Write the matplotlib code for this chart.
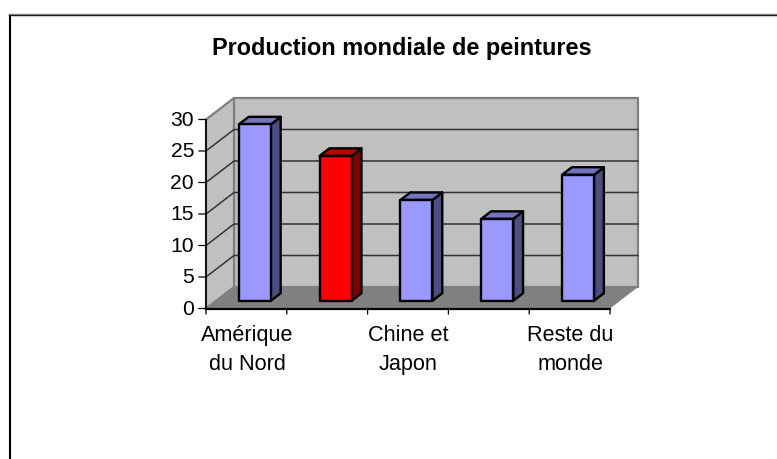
import matplotlib
matplotlib.use("Agg")
import matplotlib.pyplot as plt
from matplotlib.patches import Polygon
from matplotlib.lines import Line2D

categories = ["Amérique\ndu Nord", "", "Chine et\nJapon", "", "Reste du\nmonde"]
values = [28, 23, 16, 13, 20]
bar_colors = ["#9999FF", "#FF0000", "#9999FF", "#9999FF", "#9999FF"]
top_colors = ["#7373BF", "#BF0000", "#7373BF", "#7373BF", "#7373BF"]
side_colors = ["#4D4D80", "#800000", "#4D4D80", "#4D4D80", "#4D4D80"]
y_ticks = [0, 5, 10, 15, 20, 25, 30]
title = "Production mondiale de peintures"

W, H = 777, 459
plt.rcParams["font.family"] = "Liberation Sans"
fig = plt.figure(figsize=(W / 100, H / 100), dpi=100, facecolor="white")

# Front plane of the oblique box
L, R, B, T = 206, 610, 308.5, 119.5
ax = fig.add_axes([L / W, 1 - B / H, (R - L) / W, (B - T) / H])
ax.set_xlim(0, 5)
ax.set_ylim(0, 30)
ax.axis("off")

# Oblique depth, in data units for full box depth
DX = 28 / ((R - L) / 5)
DY = 21.5 / ((B - T) / 30)
Z0, Z1 = 0.36, 0.71   # bar front / back depth fraction
BAR_W = 32 / ((R - L) / 5)
SHIFT = -0.02

def P(x, y, z=0.0):
    return (x + DX * z, y + DY * z)

def poly(pts, fc, ec="none", lw=0, z=1, join="miter"):
    ax.add_patch(Polygon(pts, closed=True, facecolor=fc, edgecolor=ec, linewidth=lw,
                         clip_on=False, zorder=z, joinstyle=join))

# Walls and floor
poly([P(0, 0, 1), P(5, 0, 1), P(5, 30, 1), P(0, 30, 1)], "#C0C0C0", "#808080", 1.6, 1)
poly([P(0, 0, 0), P(0, 0, 1), P(0, 30, 1), P(0, 30, 0)], "#C0C0C0", "#808080", 1.6, 1)
poly([P(0, 0, 0), P(5, 0, 0), P(5, 0, 1), P(0, 0, 1)], "#808080", "none", 0, 2)

# Gridlines
for v in y_ticks[1:-1]:
    ax.add_line(Line2D(*zip(P(0, v, 0), P(0, v, 1), P(5, v, 1)), color="#333333", lw=1.1,
                       clip_on=False, zorder=3))

# Bars
for i, (v, fc, tc, sc) in enumerate(zip(values, bar_colors, top_colors, side_colors)):
    c = i + 0.5 + SHIFT
    x0, x1 = c - BAR_W / 2, c + BAR_W / 2
    kw = dict(ec="black", lw=1.7, z=5, join="round")
    poly([P(x1, 0, Z0), P(x1, 0, Z1), P(x1, v, Z1), P(x1, v, Z0)], sc, **kw)
    poly([P(x0, v, Z0), P(x1, v, Z0), P(x1, v, Z1), P(x0, v, Z1)], tc, **kw)
    poly([P(x0, 0, Z0), P(x1, 0, Z0), P(x1, v, Z0), P(x0, v, Z0)], fc, **kw)

# Axes lines, ticks
ax.add_line(Line2D([0, 5], [0, 0], color="black", lw=1.6, clip_on=False, zorder=6))
ax.add_line(Line2D([0, 0], [0, 30], color="black", lw=1.2, clip_on=False, zorder=6))
for v in y_ticks:
    ax.annotate(str(v), xy=(0, v), xytext=(-8.6, 0.8), textcoords="offset points",
                ha="right", va="center_baseline", fontsize=15.2, color="black", annotation_clip=False)
    ax.annotate("", xy=(0, v), xytext=(-5.2, 0), textcoords="offset points",
                arrowprops=dict(arrowstyle="-", color="black", lw=0.9, shrinkA=0, shrinkB=0),
                annotation_clip=False)
for i in range(6):
    ax.annotate("", xy=(i, 0), xytext=(0, -4), textcoords="offset points",
                arrowprops=dict(arrowstyle="-", color="black", lw=0.9, shrinkA=0, shrinkB=0),
                annotation_clip=False)
for i, lab in enumerate(categories):
    if lab:
        ax.annotate(lab, xy=(i + 0.5, 0), xytext=(0.4, -11.6), textcoords="offset points",
                    ha="center", va="top", fontsize=15.6, linespacing=1.55, annotation_clip=False)

# Title and slide border
fig.text(402 / W, 1 - 49 / H, title, ha="center", va="center", fontsize=16.9, fontweight="bold")
fig.add_artist(Line2D([9.5 / W, 9.5 / W], [0, 1 - 15 / H], color="black", lw=1.5))
fig.add_artist(Line2D([9 / W, 1], [1 - 15.3 / H, 1 - 15.3 / H], color="black", lw=1.0))
fig.add_artist(Line2D([9 / W, 1], [1 - 14.3 / H, 1 - 14.3 / H], color="#808080", lw=1.0))

fig.savefig("out.png", dpi=100, facecolor="white")
